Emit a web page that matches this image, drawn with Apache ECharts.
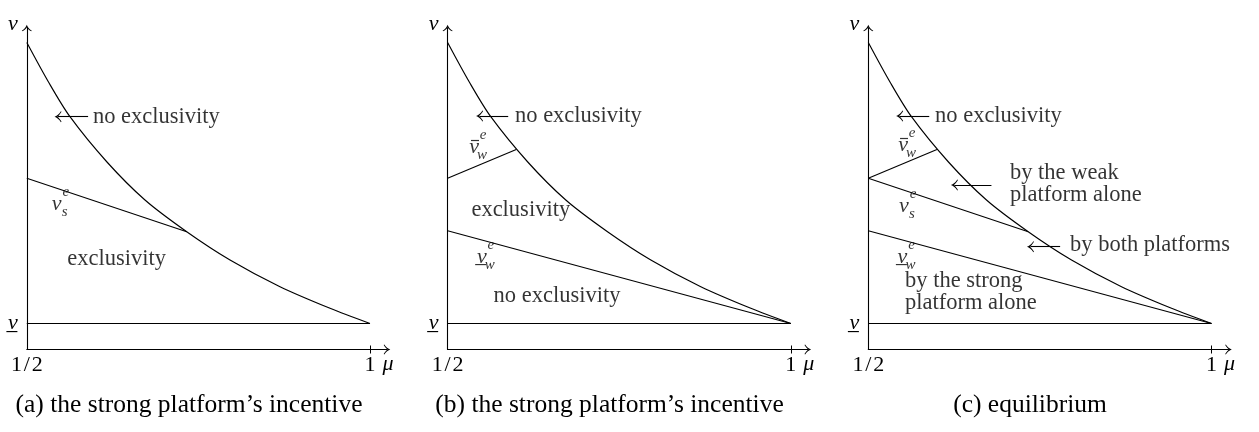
<!DOCTYPE html>
<html>
<head>
<meta charset="utf-8">
<script src="https://cdn.jsdelivr.net/npm/echarts@6/dist/echarts.min.js"></script>
<style>
  html, body { margin: 0; padding: 0; background: #fff; }
  #chart { width: 1259px; height: 432px; }
</style>
</head>
<body>
<div id="chart"></div>
<script>
// Boundary above which no platform asks for exclusivity: v̄(μ)
const curveMu = [0.5, 0.5316, 0.5629, 0.6168, 0.6722, 0.733, 0.7961, 0.8689, 0.9418, 1.0];
const curveV  = [3.07, 2.675, 2.328, 1.875, 1.495, 1.178, 0.895, 0.628, 0.412, 0.26];

// Lower bound of valuations
const vLow = 0.26;

// Threshold lines, each given by its two end points [μ, v]
const vsLine    = [[0.5, 1.712], [0.733, 1.178]];   // v_s^e
const vwBarLine = [[0.5, 1.712], [0.6, 2.0]];       // v̄_w^e
const vwLine    = [[0.5, 1.188], [1.0, 0.26]];      // v_w^e

// Tick labels
const xTickValues = [0.5, 1];
const xTickLabels = ['1\u200A/\u200A2', '1'];
const yTickValues = [vLow];
const yTickLabels = ['v\u0332'];

const captions = [
  '(a) the strong platform\u2019s incentive',
  '(b) the strong platform\u2019s incentive',
  '(c) equilibrium'
];

// Which threshold lines each panel shows
const panelLines = [
  [vsLine],
  [vwBarLine, vwLine],
  [vwBarLine, vsLine, vwLine]
];

// Region names, anchored in data coordinates
const notes = [
  { p: 0, text: 'no exclusivity', at: [0.5964, 2.328], align: 'left' },
  { p: 0, text: 'exclusivity', at: [0.631, 0.902], align: 'center' },
  { p: 1, text: 'no exclusivity', at: [0.5982, 2.335], align: 'left' },
  { p: 1, text: 'exclusivity', at: [0.6066, 1.395], align: 'center' },
  { p: 1, text: 'no exclusivity', at: [0.6594, 0.535], align: 'center' },
  { p: 2, text: 'no exclusivity', at: [0.5972, 2.335], align: 'left' },
  { p: 2, text: 'by the weak\nplatform alone', at: [0.7064, 1.655], align: 'left' },
  { p: 2, text: 'by both platforms', at: [0.7939, 1.045], align: 'left' },
  { p: 2, text: 'by the strong\nplatform alone', at: [0.5535, 0.57], align: 'left' }
];

// Pointers from a name to its region: tail -> head
const pointers = [
  { p: 0, from: [0.5893, 2.328], to: [0.5455, 2.328] },
  { p: 1, from: [0.5883, 2.335], to: [0.5466, 2.335] },
  { p: 2, from: [0.5888, 2.335], to: [0.5457, 2.335] },
  { p: 2, from: [0.6794, 1.645], to: [0.6255, 1.645] },
  { p: 2, from: [0.7795, 1.028], to: [0.7363, 1.028] }
];

// Line labels: base symbol (optionally barred) with super- and subscript
const mathLabels = [
  { p: 0, base: 'v', mark: '', sup: 'e', sub: 's', at: [0.5436, 1.455] },
  { p: 1, base: 'v', mark: 'bar', sup: 'e', sub: 'w', at: [0.5385, 2.025] },
  { p: 1, base: 'v\u0332', mark: '', sup: 'e', sub: 'w', at: [0.5498, 0.925] },
  { p: 2, base: 'v', mark: 'bar', sup: 'e', sub: 'w', at: [0.5506, 2.045] },
  { p: 2, base: 'v', mark: '', sup: 'e', sub: 's', at: [0.552, 1.435] },
  { p: 2, base: 'v\u0332', mark: '', sup: 'e', sub: 'w', at: [0.5498, 0.925] }
];

// ---- styling / layout ----
const FONT = '"Liberation Serif", "DejaVu Serif", serif';
const INK = '#000';
const gridLefts = [26.8, 447.6, 868.3];
const GRID_TOP = 28, GRID_H = 321.5, GRID_W = 360.2;
const X_MAX = 1.0248, Y_MAX = 3.215;
const arrowHead = 'path://M5,0 C5.6,2 7.5,4.5 10,6 L9.5,6.6 C7.4,5.3 5.8,3.9 5,2.7 C4.2,3.9 2.6,5.3 0.5,6.6 L0,6 C2.5,4.5 4.4,2 5,0 Z';

const grid = [], xAxis = [], yAxis = [], series = [];

gridLefts.forEach((left, i) => {
  grid.push({ left: left, top: GRID_TOP, width: GRID_W, height: GRID_H });

  // main horizontal axis with outer tick and labels
  xAxis.push({
    type: 'value', gridIndex: i, min: 0.5, max: X_MAX,
    splitLine: { show: false },
    axisLine: { show: true, onZero: false, lineStyle: { color: INK, width: 1.1 },
      symbol: ['none', arrowHead], symbolSize: [10, 7] },
    axisTick: { show: true, customValues: [1], length: 4, lineStyle: { color: INK, width: 1 } },
    axisLabel: {
      show: true, customValues: xTickValues, margin: 5,
      formatter: v => xTickLabels[xTickValues.indexOf(v)] ?? '',
      fontFamily: FONT, fontSize: 22, color: INK, showMinLabel: true, showMaxLabel: true
    },
    name: '\u03bc', nameLocation: 'end', nameGap: 1,
    nameTextStyle: { fontFamily: FONT, fontStyle: 'italic', fontSize: 22, color: INK,
      align: 'center', verticalAlign: 'top', padding: [4, 0, 0, 0] }
  });
  // companion axis supplying the inner half of the tick at μ = 1
  xAxis.push({
    type: 'value', gridIndex: i, min: 0.5, max: X_MAX, position: 'bottom',
    splitLine: { show: false },
    axisLine: { show: false, onZero: false },
    axisTick: { show: true, inside: true, customValues: [1], length: 4, lineStyle: { color: INK, width: 1 } },
    axisLabel: { show: false }
  });

  yAxis.push({
    type: 'value', gridIndex: i, min: 0, max: Y_MAX,
    splitLine: { show: false },
    axisLine: { show: true, onZero: false, lineStyle: { color: INK, width: 1.1 },
      symbol: ['none', arrowHead], symbolSize: [10, 7] },
    axisTick: { show: false },
    axisLabel: {
      show: true, customValues: yTickValues, margin: 9,
      formatter: v => yTickLabels[yTickValues.indexOf(v)] ?? '',
      fontFamily: FONT, fontStyle: 'italic', fontSize: 22, color: INK
    },
    name: 'v', nameLocation: 'end', nameGap: 4,
    nameTextStyle: { fontFamily: FONT, fontStyle: 'italic', fontSize: 22, color: INK,
      align: 'right', verticalAlign: 'middle', padding: [0, 9, 0, 0] }
  });

  const xi = i * 2, yi = i;
  const lineBase = { type: 'line', xAxisIndex: xi, yAxisIndex: yi, showSymbol: false,
    symbol: 'none', silent: true, z: 3 };

  // v̄(μ) boundary
  series.push(Object.assign({}, lineBase, {
    data: curveMu.map((m, k) => [m, curveV[k]]),
    smooth: 0.3,
    lineStyle: { color: INK, width: 1.15 }
  }));
  // lower bound v̲
  series.push(Object.assign({}, lineBase, {
    data: [[0.5, vLow], [1, vLow]],
    lineStyle: { color: INK, width: 1.1 }
  }));
  panelLines[i].forEach(seg => {
    series.push(Object.assign({}, lineBase, {
      data: seg, lineStyle: { color: INK, width: 1.1 }
    }));
  });

  // text notes, math labels and pointer arrows
  const items = [];
  notes.filter(n => n.p === i).forEach(n => {
    items.push({ value: n.at, label: {
      show: true, formatter: n.text, position: [0, 0], align: n.align, verticalAlign: 'middle',
      fontFamily: FONT, fontSize: 22.5, lineHeight: 22, color: INK } });
  });
  const glyph = (at, text, size, offset) => ({
    value: at, label: { show: true, formatter: text, position: [0, 0], offset: offset,
      align: 'center', verticalAlign: 'middle', fontFamily: FONT,
      fontStyle: 'italic', fontSize: size, color: INK } });
  mathLabels.filter(m => m.p === i).forEach(m => {
    items.push(glyph(m.at, m.base, 22, [0, 0]));
    if (m.mark === 'bar') {
      // short overline above the base symbol
      items.push({ value: m.at, label: { show: true, formatter: ' ', position: [0, 0],
        offset: [1, -6.5], align: 'center', verticalAlign: 'middle', fontSize: 1,
        width: 8, height: 1.2, lineHeight: 1.2, padding: 0, backgroundColor: INK } });
    }
    items.push(glyph(m.at, m.sup, 15, [9, -12]));
    items.push(glyph(m.at, m.sub, 15, [8, 8]));
  });

  series.push({
    type: 'scatter', xAxisIndex: xi, yAxisIndex: yi, symbolSize: 0, silent: true,
    data: items, z: 5,
    markLine: {
      silent: true, animation: false,
      symbol: ['none', arrowHead], symbolSize: [11, 7],
      lineStyle: { color: INK, width: 1.1, type: 'solid' },
      label: { show: false },
      data: pointers.filter(a => a.p === i).map(a => [
        { coord: a.from }, { coord: a.to }
      ])
    }
  });
});

const graphic = captions.map((t, i) => ({
  type: 'text', x: [189, 609.5, 1030][i], y: 405,
  style: { text: t, fontFamily: FONT, fontSize: 25.5, fill: INK,
    textAlign: 'center', textVerticalAlign: 'middle' }
}));

const chart = echarts.init(document.getElementById('chart'), null, { renderer: 'canvas' });
chart.setOption({
  animation: false,
  backgroundColor: '#fff',
  grid, xAxis, yAxis, series, graphic
});
</script>
</body>
</html>
